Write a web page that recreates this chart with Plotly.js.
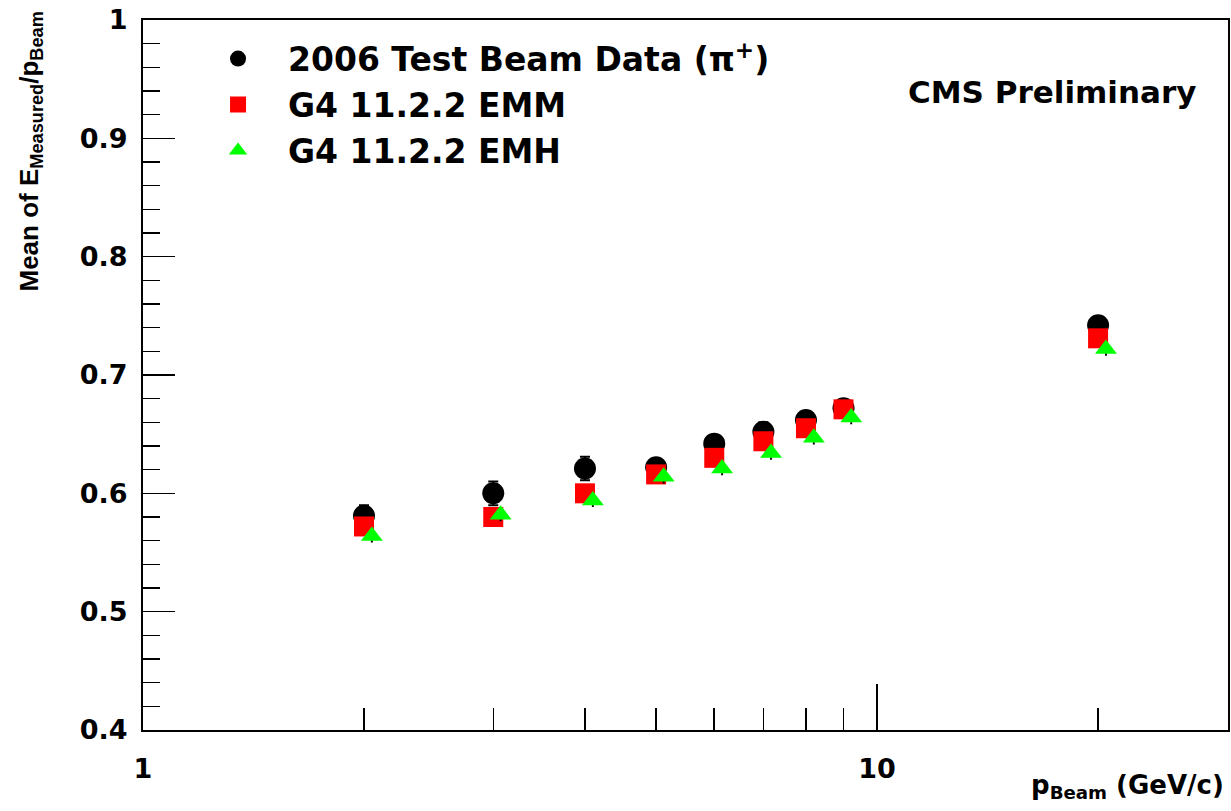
<!DOCTYPE html>
<html><head><meta charset="utf-8">
<script src="https://cdn.plot.ly/plotly-3.0.1.min.js"></script>
<style>html,body{margin:0;padding:0;background:#fff}#chart{width:1231px;height:811px}</style>
</head><body><div id="chart"></div>
<script>
// p_Beam (GeV/c)
const beamMomentum = [2, 3, 4, 5, 6, 7, 8, 9, 20];
const emhMomentum  = [2.05, 3.07, 4.1, 5.12, 6.15, 7.17, 8.2, 9.22, 20.5];
// Mean of E_measured / p_beam
const dataMean = [0.581, 0.600, 0.621, 0.622, 0.642, 0.652, 0.662, 0.672, 0.742];
const dataErr  = [0.009, 0.010, 0.010, 0.007, 0.007, 0.008, 0.007, 0.007, 0.007];
const emmMean  = [0.572, 0.580, 0.600, 0.616, 0.630, 0.644, 0.655, 0.671, 0.731];
const emmErr   = [0.004, 0.004, 0.004, 0.004, 0.004, 0.004, 0.004, 0.004, 0.004];
const emhMean  = [0.564, 0.582, 0.594, 0.614, 0.621, 0.634, 0.647, 0.664, 0.722];
const emhErr   = [0.005, 0.005, 0.005, 0.005, 0.005, 0.005, 0.005, 0.005, 0.005];
const seriesNames = ['2006 Test Beam Data (\u03c0<sup>+</sup>)', 'G4 11.2.2 EMM', 'G4 11.2.2 EMH'];
const xMajorTicks = [1, 10];
const xMajorLabels = ['1', '10'];
const xMinorTicks = [2, 3, 4, 5, 6, 7, 8, 9, 20];

const HFONT = 'DejaVu Sans';
const VFONT = 'Liberation Sans';

const traces = [
  {x: beamMomentum, y: dataMean, name: seriesNames[0], type: 'scatter', mode: 'markers',
   marker: {symbol: 'circle', size: 22, color: '#000'},
   error_y: {type: 'data', array: dataErr, visible: true, color: '#000', thickness: 2, width: 5}},
  {x: beamMomentum, y: emmMean, name: seriesNames[1], type: 'scatter', mode: 'markers',
   marker: {symbol: 'square', size: 20, color: '#ff0000'},
   error_y: {type: 'data', array: emmErr, visible: true, color: '#000', thickness: 1.5, width: 1}},
  {x: emhMomentum, y: emhMean, name: seriesNames[2], type: 'scatter', mode: 'markers',
   marker: {symbol: 'triangle-up', size: 19, color: '#00ff00'},
   error_y: {type: 'data', array: emhErr, visible: true, color: '#000', thickness: 1.5, width: 1}}
];

const layout = {
  width: 1231, height: 811,
  margin: {l: 143, r: 3, t: 20, b: 81},
  paper_bgcolor: '#fff', plot_bgcolor: '#fff',
  showlegend: true,
  legend: {x: 0.0415, y: 0.985, xanchor: 'left', yanchor: 'top', bgcolor: 'rgba(0,0,0,0)',
           font: {family: HFONT, size: 33, weight: 'bold', color: '#000'},
           itemwidth: 90, tracegroupgap: 0},
  xaxis: {type: 'log', range: [0, 1.478], showgrid: false, zeroline: false,
          showline: true, linecolor: '#000', linewidth: 2, mirror: true,
          tickmode: 'array', tickvals: xMajorTicks, ticktext: xMajorLabels,
          ticks: 'inside', ticklen: 46, tickwidth: 1.5, tickcolor: '#000',
          ticklabelstandoff: 14,
          minor: {tickmode: 'array', tickvals: xMinorTicks, ticks: 'inside', ticklen: 22, tickwidth: 1.5, tickcolor: '#000', showgrid: false},
          tickfont: {family: HFONT, size: 27, weight: 'bold', color: '#000'}},
  yaxis: {range: [0.4, 1.0], showgrid: false, zeroline: false,
          showline: true, linecolor: '#000', linewidth: 2, mirror: true,
          tickmode: 'linear', tick0: 0.4, dtick: 0.1,
          ticks: 'inside', ticklen: 32, tickwidth: 1.5, tickcolor: '#000',
          ticklabelstandoff: 8,
          minor: {dtick: 0.02, ticks: 'inside', ticklen: 17, tickwidth: 1.5, tickcolor: '#000', showgrid: false},
          tickfont: {family: HFONT, size: 27, weight: 'bold', color: '#000'}},
  annotations: [
    {text: 'CMS Preliminary', xref: 'paper', yref: 'paper', x: 0.972, y: 0.898,
     xanchor: 'right', yanchor: 'middle', showarrow: false,
     font: {family: HFONT, size: 31, weight: 'bold', color: '#000'}},
    {text: 'Mean of E<sub>Measured</sub>/p<sub>Beam</sub>', xref: 'paper', yref: 'paper',
     x: -0.104, y: 0.815, xanchor: 'center', yanchor: 'middle', textangle: -90, showarrow: false,
     font: {family: VFONT, size: 26, weight: 'bold', color: '#000'}},
    {text: 'p<sub>Beam</sub> (GeV/c)', xref: 'paper', yref: 'paper',
     x: 0.9985, y: -0.08, xanchor: 'right', yanchor: 'middle', showarrow: false,
     font: {family: HFONT, size: 26, weight: 'bold', color: '#000'}}
  ]
};

Plotly.newPlot('chart', traces, layout, {displayModeBar: false, staticPlot: true});
</script>
</body></html>
